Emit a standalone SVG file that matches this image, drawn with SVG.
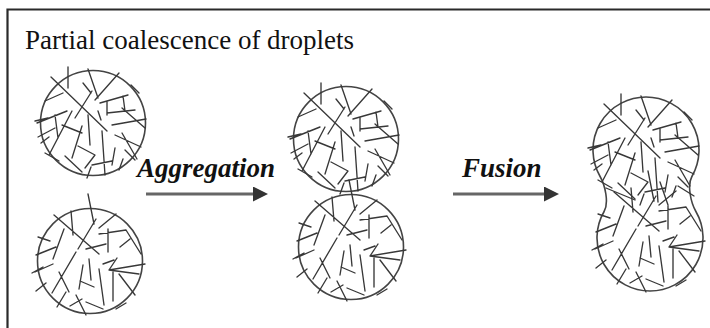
<svg xmlns="http://www.w3.org/2000/svg" xmlns:xlink="http://www.w3.org/1999/xlink" width="710" height="328" viewBox="0 0 710 328">
<style>
.frame{fill:none;stroke:#2a2a2a;stroke-width:2.2}
.title{font-family:"Liberation Serif","Times New Roman",serif;font-size:27px;fill:#111}
.label{font-family:"Liberation Serif","Times New Roman",serif;font-size:27px;font-weight:bold;font-style:italic;fill:#111}
.rim{fill:none;stroke:#444;stroke-width:1.6}
.sticks{fill:none;stroke:#383838;stroke-width:1.35;stroke-linecap:round;stroke-linejoin:round}
.arrow{stroke:#666;stroke-width:3;fill:none}
</style>
<defs>
<marker id="head" markerUnits="userSpaceOnUse" markerWidth="16" markerHeight="16" refX="5" refY="7.5" orient="auto">
<path d="M0,0 L15,7.5 L0,15 Z" fill="#333"/>
</marker>
<path id="netA" class="sticks" d="M-42,-46 L14,8 M-25,-56 L-25,-35 M-5,-54 L5,-25 M26,-50 L2,-23 M-18,-5 L-1,-32 M7,-20 L35,-28 M30,-27 L32,-12 M14,-22 L14,-8 M14,-10 L42,-13 M29,-15 L52,5 M19,2 L53,-4 M22,12 L48,24 M29,10 L44,36 M-56,0 L-26,-12 M-38,-8 L-35,15 M-55,14 L-38,5 M-21,-12 L-44,32 M-31,2 L-11,10 M-5,-8 L-3,22 M-11,3 L-21,35 M-15,23 L2,32 L-8,45 M9,8 L12,52 M-1,42 L19,38 M-28,33 L-11,49 M22,25 L19,42 M32,27 L42,37 M-58,-2 L-45,-5 M-52,20 L-44,14 M-10,-40 L-2,-30 M-48,-22 L-30,-30 M-34,38 L-48,30 M5,-12 L8,-3 M38,-38 L46,-30 M-6,55 L-2,44 M26,47 L30,36"/>
<path id="netB" class="sticks" d="M-2,-67 L4,-37 M6,-42 L-12,-12 M9,-27 L36,-31 M9,-33 L26,-47 M36,-31 L51,-7 M-36,-46 L9,-7 M-19,-50 L-17,-26 M-26,-32 L-37,-2 M-54,-6 L-34,-14 M-55,11 L-37,3 M-14,-9 L-38,32 M-4,-12 L16,-17 M18,-32 L18,-9 M19,9 L55,3 M19,9 L49,13 M13,3 L24,-1 M19,9 L27,-3 M-1,-2 L1,19 M-7,4 L-11,28 M9,8 L14,44 M23,11 L23,40 M29,13 L45,34 M-14,34 L-4,54 M-4,41 L13,48 M-24,31 L-33,46 M-58,12 L-47,6 M-31,11 L-21,31 M-44,22 L-54,30 M36,42 L26,48 M-10,20 L4,26 M40,-22 L30,-14 M-40,-20 L-52,-24 M-20,45 L-8,38"/>
<circle id="rimC" class="rim" r="52.5"/>
</defs>

<g id="frame">
<path class="frame" d="M7.5,328 L7.5,9.5 L710,9.5"/>
</g>

<g id="title">
<text class="title" x="25" y="49">Partial coalescence of droplets</text>
</g>

<g id="droplet-left-top">
<use xlink:href="#rimC" href="#rimC" x="93" y="123"/>
<use xlink:href="#netA" href="#netA" x="93" y="123"/>
</g>
<g id="droplet-left-bottom">
<use xlink:href="#rimC" href="#rimC" x="90" y="261"/>
<use xlink:href="#netB" href="#netB" x="90" y="261"/>
</g>

<g id="droplet-mid-top">
<use xlink:href="#rimC" href="#rimC" x="346" y="139"/>
<use xlink:href="#netA" href="#netA" x="346" y="139"/>
</g>
<g id="droplet-mid-bottom">
<use xlink:href="#rimC" href="#rimC" x="351" y="247"/>
<use xlink:href="#netB" href="#netB" x="351" y="247"/>
</g>

<g id="droplet-fused">
<path class="rim" d="M600.1,176.5 A53,53 0 1 1 691.9,176.5 C686.9,185.2 690.9,202.8 695.9,211.5 A53,53 0 1 1 604.1,211.5 C609.1,202.8 605.1,185.2 600.1,176.5 Z"/>
<use xlink:href="#netA" href="#netA" x="646" y="150"/>
<use xlink:href="#netB" href="#netB" x="650" y="238"/>
<path class="sticks" d="M606,188 L635,200 M660,182 L668,205 M678,186 L694,196"/>
</g>

<g id="connectors">
<line class="arrow" x1="146" y1="194" x2="258" y2="194" marker-end="url(#head)"/>
<line class="arrow" x1="453" y1="194" x2="549" y2="194" marker-end="url(#head)"/>
</g>

<g id="label-aggregation">
<text class="label" x="137" y="177">Aggregation</text>
</g>
<g id="label-fusion">
<text class="label" x="462" y="177">Fusion</text>
</g>
</svg>
